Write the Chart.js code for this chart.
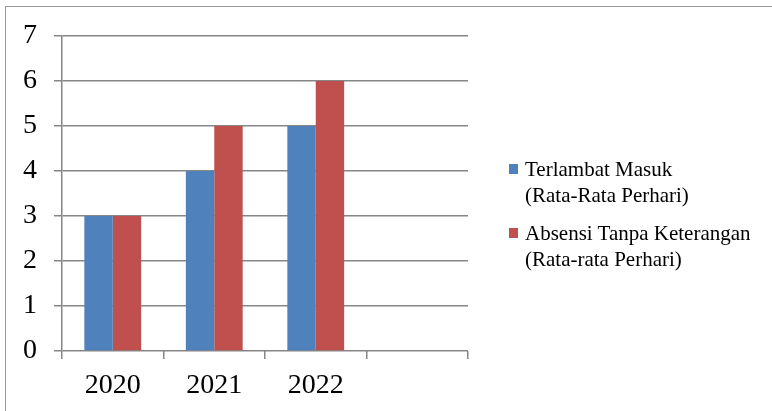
<!DOCTYPE html>
<html>
<head>
<meta charset="utf-8">
<script src="https://cdn.jsdelivr.net/npm/chart.js@4"></script>
<style>
  body { margin: 0; background: #fff; }
  #wrap { position: relative; width: 772px; height: 411px; overflow: hidden; }
  #frame {
    position: absolute; left: 5px; top: 6px; width: 800px; height: 440px;
    border: 1.5px solid #9a9a9a; box-sizing: border-box;
  }
  #chart { position: absolute; left: 0; top: 0; }
  .legend-item {
    position: absolute; left: 509px;
    font-family: "Liberation Serif", "Times New Roman", serif;
    font-size: 21px; line-height: 26px; color: #000;
  }
  .legend-item .box { position: absolute; left: 0; width: 9px; height: 10px; }
  .legend-item .txt { position: absolute; left: 16px; top: 0; white-space: nowrap; }
</style>
</head>
<body>
<div id="wrap">
  <div id="frame"></div>
  <canvas id="chart" width="772" height="411"></canvas>
  <div id="legend"></div>
</div>
<script>
// Data
const years = ['2020', '2021', '2022', ''];
const terlambatMasuk = [3, 4, 5, null];
const absensiTanpaKeterangan = [3, 5, 6, null];
const yTicks = [0, 1, 2, 3, 4, 5, 6, 7];

const seriesNames = [
    ['Terlambat Masuk', '(Rata-Rata Perhari)'],
    ['Absensi Tanpa Keterangan', '(Rata-rata Perhari)']
];
const seriesColors = ['#4F81BD', '#C0504D'];

const gridColor = '#868686';
const fontFamily = '"Liberation Serif", "Times New Roman", serif';

// Build the HTML legend on the right
function buildLegend() {
    const legend = document.getElementById('legend');
    const tops = [156, 220];
    seriesNames.forEach((lines, i) => {
        const item = document.createElement('div');
        item.className = 'legend-item';
        item.style.top = tops[i] + 'px';
        const box = document.createElement('div');
        box.className = 'box';
        box.style.background = seriesColors[i];
        box.style.top = '8px';
        const txt = document.createElement('div');
        txt.className = 'txt';
        txt.innerHTML = lines.join('<br>');
        item.appendChild(box);
        item.appendChild(txt);
        legend.appendChild(item);
    });
}

document.addEventListener('DOMContentLoaded', function() {
    buildLegend();

    const ctx = document.getElementById('chart');
    new Chart(ctx, {
        type: 'bar',
        data: {
            labels: years,
            datasets: [{
                label: seriesNames[0].join(' '),
                data: terlambatMasuk,
                backgroundColor: seriesColors[0],
                borderWidth: 0
            }, {
                label: seriesNames[1].join(' '),
                data: absensiTanpaKeterangan,
                backgroundColor: seriesColors[1],
                borderWidth: 0
            }]
        },
        options: {
            responsive: false,
            animation: false,
            layout: {
                padding: { left: 0, top: 36, right: 304, bottom: 0 }
            },
            plugins: {
                legend: { display: false },
                tooltip: { enabled: false }
            },
            datasets: {
                bar: {
                    categoryPercentage: 0.56,
                    barPercentage: 1.0
                }
            },
            scales: {
                x: {
                    grid: {
                        offset: true,
                        drawOnChartArea: false,
                        drawTicks: true,
                        tickLength: 8,
                        color: gridColor,
                        lineWidth: 1.5
                    },
                    border: { display: false },
                    ticks: {
                        color: '#000',
                        padding: 10,
                        maxRotation: 0,
                        font: { family: fontFamily, size: 28 }
                    },
                    afterFit: function(scale) { scale.height = 60; }
                },
                y: {
                    min: 0,
                    max: 7,
                    afterBuildTicks: function(scale) {
                        scale.ticks = yTicks.map(v => ({ value: v }));
                    },
                    grid: {
                        color: gridColor,
                        lineWidth: 1.5,
                        tickLength: 8
                    },
                    border: { display: true, color: gridColor, width: 1.5 },
                    ticks: {
                        color: '#000',
                        padding: 17,
                        font: { family: fontFamily, size: 28 }
                    },
                    afterFit: function(scale) { scale.width = 62; }
                }
            }
        }
    });
});
</script>
</body>
</html>
